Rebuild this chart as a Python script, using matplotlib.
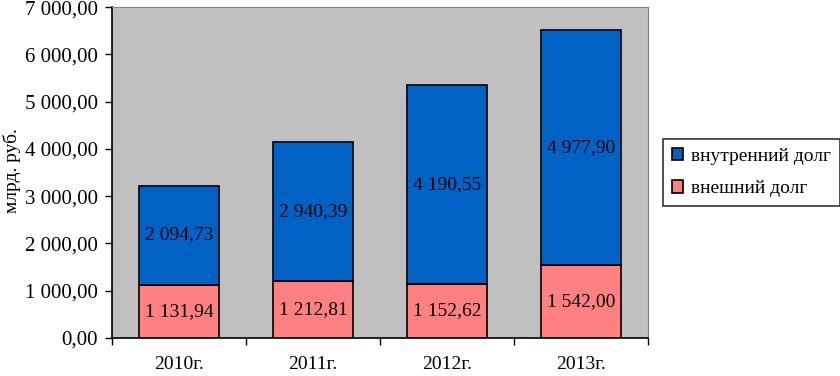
import matplotlib.pyplot as plt
import matplotlib as mpl
import numpy as np
from matplotlib.ticker import FuncFormatter

plt.rcParams['font.family'] = ['Liberation Serif', 'DejaVu Serif']

years = ['2010г.', '2011г.', '2012г.', '2013г.']
external_debt = [1131.94, 1212.81, 1152.62, 1542.00]
internal_debt = [2094.73, 2940.39, 4190.55, 4977.90]

LABEL_INTERNAL = 'внутренний долг'
LABEL_EXTERNAL = 'внешний долг'
COLOR_INTERNAL = '#0062C4'
COLOR_EXTERNAL = '#FF8080'


def ru_number(v, pos=None):
    s = '{:,.2f}'.format(v)
    return s.replace(',', ' ').replace('.', ',')


fig = plt.figure(figsize=(8.4, 3.76), dpi=100)
ax = fig.add_axes([0.1333, 0.101, 0.638, 0.880])
ax.set_facecolor('#C0C0C0')

x = np.arange(len(years))
bar_w = 0.6
b_ext = ax.bar(x, external_debt, bar_w, color=COLOR_EXTERNAL, edgecolor='black',
               linewidth=1.2, label=LABEL_EXTERNAL, zorder=3)
b_int = ax.bar(x, internal_debt, bar_w, bottom=external_debt, color=COLOR_INTERNAL,
               edgecolor='black', linewidth=1.2, label=LABEL_INTERNAL, zorder=3)

for i in range(len(years)):
    ax.text(x[i], external_debt[i] / 2, ru_number(external_debt[i]),
            ha='center', va='center', fontsize=14, zorder=4)
    ax.text(x[i], external_debt[i] + internal_debt[i] / 2, ru_number(internal_debt[i]),
            ha='center', va='center', fontsize=14, zorder=4)

ax.set_xlim(-0.5, len(years) - 0.5)
ax.set_ylim(0, 7000)
ax.set_yticks(np.arange(0, 7001, 1000))
ax.yaxis.set_major_formatter(FuncFormatter(ru_number))
ax.set_xticks(x)
ax.set_xticklabels(years)
ax.set_xticks(np.arange(-0.5, len(years), 1), minor=True)
ax.tick_params(axis='x', which='major', length=0, pad=13, labelsize=14)
ax.tick_params(axis='x', which='minor', length=5, width=1, direction='out')
ax.tick_params(axis='y', length=5, width=1, direction='out', labelsize=15, pad=5)

# y label placed by hand so it stays inside the figure
fig.text(12 / 840, 1 - 171 / 376, 'млрд. руб.', rotation=90, fontsize=14,
         ha='center', va='center')

for side in ['top', 'right']:
    ax.spines[side].set_color('#808080')
for side in ['left', 'bottom']:
    ax.spines[side].set_color('black')
    ax.spines[side].set_linewidth(1.2)

handles = [b_int, b_ext]
leg = fig.legend(handles, [LABEL_INTERNAL, LABEL_EXTERNAL], loc='upper left',
                 bbox_to_anchor=(663 / 840, 1 - 139 / 376), fontsize=14,
                 frameon=True, fancybox=False, edgecolor='black',
                 handlelength=0.6, handleheight=0.6, handletextpad=0.4,
                 borderpad=0.45, labelspacing=0.8, borderaxespad=0)
leg.get_frame().set_linewidth(1.2)

fig.savefig('out.png', dpi=100)
